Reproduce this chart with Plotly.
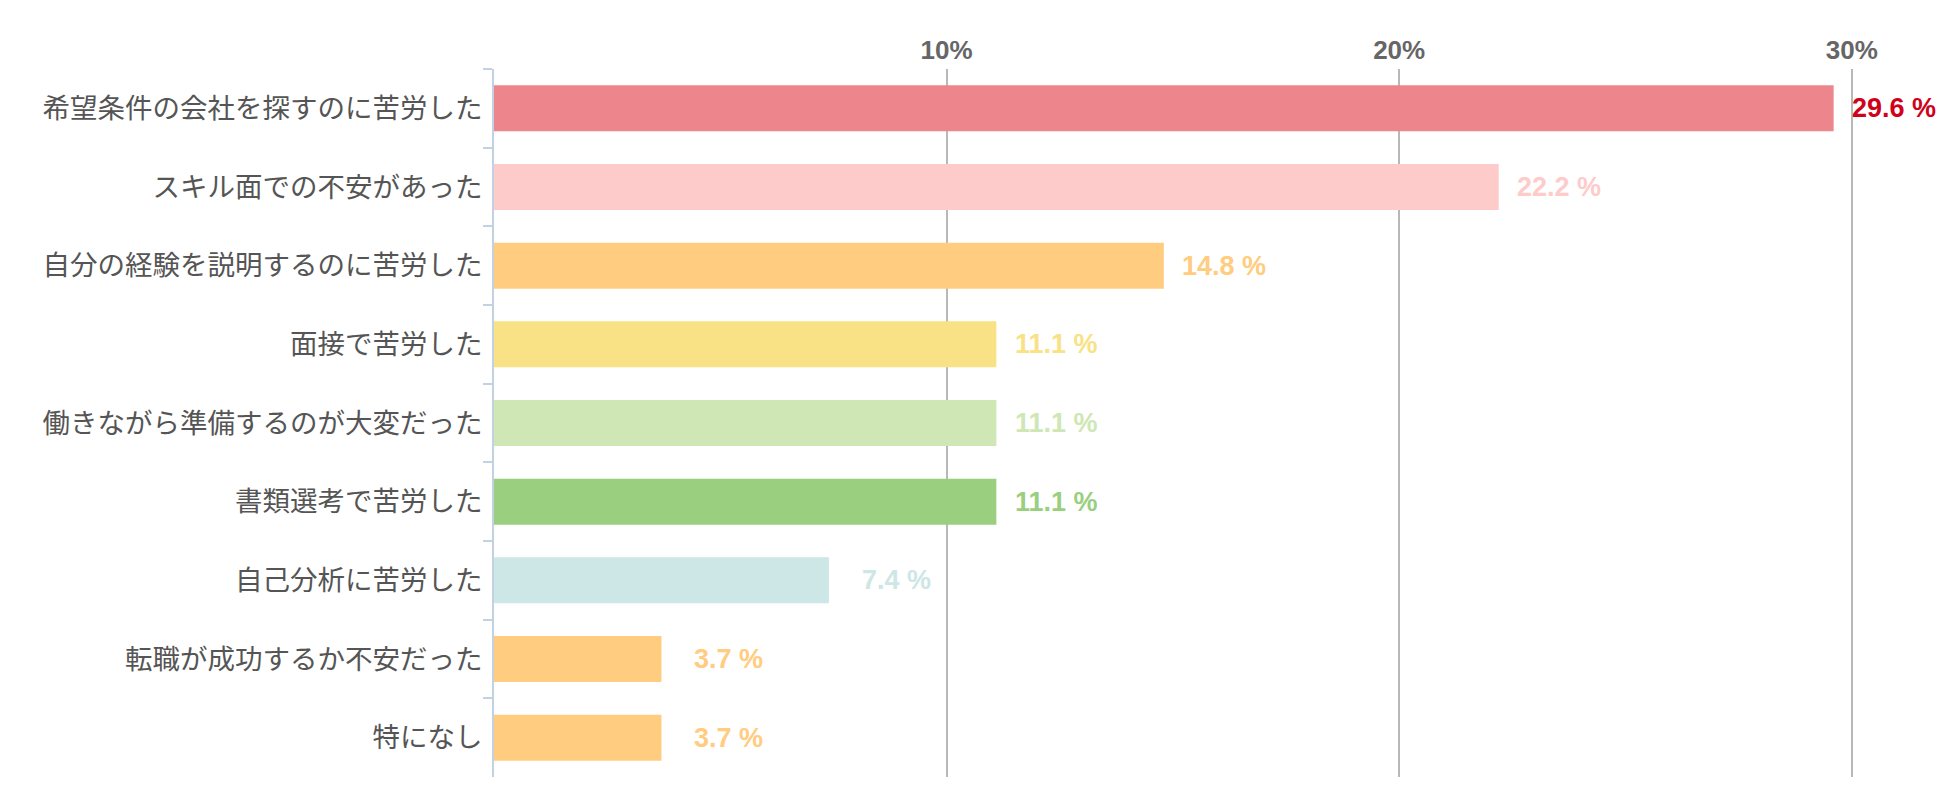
import plotly.graph_objects as go

categories = [
    "希望条件の会社を探すのに苦労した",
    "スキル面での不安があった",
    "自分の経験を説明するのに苦労した",
    "面接で苦労した",
    "働きながら準備するのが大変だった",
    "書類選考で苦労した",
    "自己分析に苦労した",
    "転職が成功するか不安だった",
    "特になし",
]
values = [29.6, 22.2, 14.8, 11.1, 11.1, 11.1, 7.4, 3.7, 3.7]
bar_colors = ["#EC868C", "#FECBCB", "#FFCC80", "#F8E285", "#CEE7B4",
              "#9ACF80", "#CDE6E6", "#FFCC80", "#FFCC80"]
label_colors = ["#D0021B", "#FECBCB", "#FFCC80", "#F8E285", "#CEE7B4",
                "#9ACF80", "#CDE6E6", "#FFCC80", "#FFCC80"]
tick_vals = [10, 20, 30]
tick_text = ["10%", "20%", "30%"]

fig = go.Figure()
fig.add_trace(go.Bar(
    x=values, y=categories, orientation="h",
    marker=dict(color=bar_colors, line=dict(width=0)),
    hoverinfo="skip",
))

for v, c, lc in zip(values, categories, label_colors):
    fig.add_annotation(
        x=v, y=c, xref="x", yref="y", text=f"{v} %",
        showarrow=False, xanchor="right", xshift=104,
        font=dict(family="Liberation Sans, Arial, sans-serif", size=27,
                  color=lc, weight="bold"),
    )

fig.update_layout(
    width=1934, height=793,
    margin=dict(l=486, r=45, t=61, b=24),
    paper_bgcolor="white", plot_bgcolor="white",
    bargap=0.415,
    showlegend=False,
    xaxis=dict(
        side="top", range=[0, 31],
        tickvals=tick_vals, ticktext=tick_text,
        showgrid=True, gridcolor="#B8B8B8", gridwidth=1.5,
        zeroline=False, showline=False, ticks="",
        ticklabelstandoff=4,
        tickfont=dict(family="Liberation Sans, Arial, sans-serif", size=26,
                      color="#666666", weight="bold"),
        fixedrange=True,
    ),
    yaxis=dict(
        autorange="reversed", type="category",
        showline=True, linecolor="#C2D2E2", linewidth=2,
        ticks="outside", tickson="boundaries", ticklen=9,
        tickcolor="#C2D2E2", tickwidth=2,
        showgrid=False, zeroline=False,
        ticklabelstandoff=4,
        tickfont=dict(family="Noto Sans CJK JP, sans-serif", size=27.5,
                      color="#555555"),
        fixedrange=True,
    ),
)

fig.write_html("out.html")
